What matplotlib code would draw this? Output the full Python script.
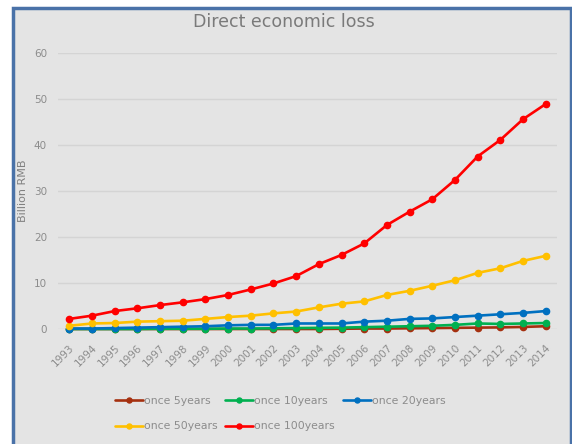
import matplotlib.pyplot as plt
import matplotlib.patches as patches
import numpy as np

years = [str(y) for y in range(1993, 2015)]

once_5 = [0.0, 0.0, 0.0, 0.0, 0.0, 0.0, 0.0, 0.0, 0.0, 0.0, 0.0, 0.0,
          0.05, 0.1, 0.1, 0.15, 0.2, 0.25, 0.3, 0.35, 0.45, 0.6]
once_10 = [0.0, 0.0, 0.0, 0.0, 0.05, 0.05, 0.05, 0.1, 0.1, 0.15, 0.2, 0.25,
           0.3, 0.4, 0.5, 0.6, 0.7, 0.9, 1.2, 1.1, 1.2, 1.3]
once_20 = [0.1, 0.1, 0.2, 0.3, 0.4, 0.5, 0.6, 0.8, 0.9, 0.9, 1.2, 1.2,
           1.2, 1.6, 1.8, 2.2, 2.3, 2.6, 2.9, 3.2, 3.5, 3.9]
once_50 = [0.7, 1.2, 1.3, 1.6, 1.7, 1.8, 2.2, 2.6, 2.9, 3.4, 3.8, 4.7,
           5.5, 6.0, 7.4, 8.3, 9.4, 10.6, 12.2, 13.2, 14.8, 15.9]
once_100 = [2.2, 2.9, 3.9, 4.5, 5.2, 5.8, 6.5, 7.4, 8.6, 9.9, 11.5, 14.1,
            16.1, 18.6, 22.6, 25.5, 28.2, 32.4, 37.5, 41.1, 45.6, 48.9]

series = [
    ('once 5years', once_5, '#A5300F'),
    ('once 10years', once_10, '#00B050'),
    ('once 20years', once_20, '#0070C0'),
    ('once 50years', once_50, '#FFC000'),
    ('once 100years', once_100, '#FF0000'),
]

bg = '#e4e4e4'
text_gray = '#8c8c8c'

fig = plt.figure(figsize=(5.72, 4.44), dpi=100)
fig.patch.set_facecolor('white')

# chart area with the blue frame (open at the bottom)
px_w, px_h = 572, 444
frame = patches.Rectangle((13 / px_w, -0.05), (571 - 13) / px_w, (444 - 8) / px_h + 0.05,
                          transform=fig.transFigure, facecolor=bg,
                          edgecolor='#4a72a8', linewidth=2.5, zorder=-10)
fig.patches.append(frame)

ax = fig.add_axes([58 / px_w, (444 - 329) / px_h, (557 - 58) / px_w, (329 - 53) / px_h])
ax.patch.set_alpha(0)

x = np.arange(len(years))
lines = []
for name, vals, col in series:
    ln, = ax.plot(x, vals, color=col, linewidth=1.9, marker='o', markersize=4.5,
                  label=name, clip_on=False, solid_capstyle='round')
    lines.append(ln)

ax.set_xlim(-0.5, len(years) - 0.5)
ax.set_ylim(0, 60)
ax.set_yticks(range(0, 61, 10))
ax.set_xticks(x)
ax.set_xticklabels(years, rotation=45, ha='right', rotation_mode='anchor')
ax.tick_params(axis='both', length=0, colors=text_gray, labelsize=7.5)
ax.tick_params(axis='x', pad=10)
ax.tick_params(axis='y', pad=8)
ax.grid(axis='y', color='#d4d4d4', linewidth=1)
ax.set_axisbelow(True)
for s in ax.spines.values():
    s.set_visible(False)

ax.set_ylabel('Billion RMB', color='#808080', fontsize=8, labelpad=4)

fig.text(284 / px_w, 1 - 22 / px_h, 'Direct economic loss', ha='center', va='center',
         fontsize=12.5, color='#7a7a7a')

# legend filled row by row, like the original
order = [0, 3, 1, 4, 2]
fig.legend([lines[i] for i in order], [series[i][0] for i in order],
           loc='upper left', bbox_to_anchor=(105 / px_w, 1 - 386 / px_h), ncol=3,
           frameon=False, fontsize=7.8, labelcolor=text_gray, handlelength=2.6,
           handletextpad=0.1, columnspacing=0.7, labelspacing=1.45, markerscale=0.8)

fig.savefig('out.png', dpi=100)
